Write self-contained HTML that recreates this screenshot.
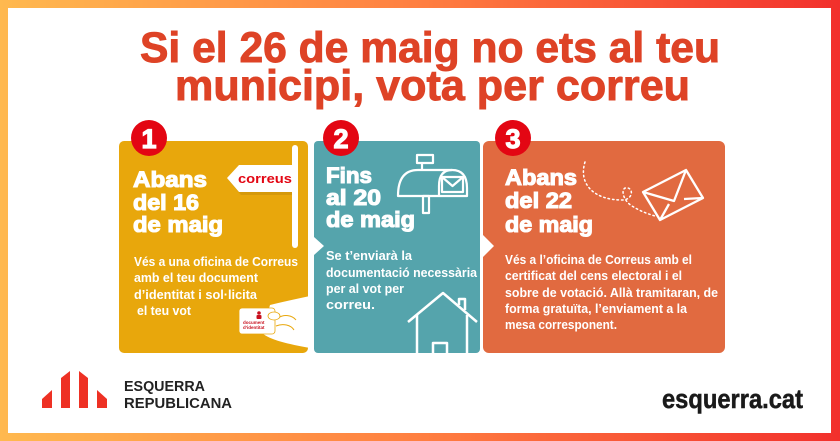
<!DOCTYPE html>
<html>
<head>
<meta charset="utf-8">
<style>
  html,body{margin:0;padding:0;background:#fff;}
  svg{display:block;}
  text{font-family:"Liberation Sans", sans-serif;font-weight:bold;}
</style>
</head>
<body>
<svg width="840" height="441" viewBox="0 0 840 441" xmlns="http://www.w3.org/2000/svg">
  <defs>
    <linearGradient id="frame" x1="0" y1="0" x2="1" y2="0">
      <stop offset="0" stop-color="#FFB94F"/>
      <stop offset="0.5" stop-color="#FF7F41"/>
      <stop offset="1" stop-color="#F2302C"/>
    </linearGradient>
  </defs>

  <!-- frame -->
  <rect x="0" y="0" width="840" height="441" fill="url(#frame)"/>
  <rect x="8" y="8" width="823" height="425" fill="#ffffff"/>

  <!-- title -->
  <g fill="#DE4326" stroke="#DE4326" stroke-width="0.9" font-size="43" text-anchor="start">
    <text x="140" y="62" textLength="580" lengthAdjust="spacingAndGlyphs">Si el 26 de maig no ets al teu</text>
    <text x="175" y="100" textLength="515" lengthAdjust="spacingAndGlyphs">municipi, vota per correu</text>
  </g>

  <!-- cards -->
  <rect x="119" y="141" width="189" height="212" rx="5" fill="#E8A70C"/>
  <rect x="314" y="141" width="166" height="212" rx="4" fill="#55A4AC"/>
  <rect x="483" y="141" width="242" height="212" rx="6" fill="#E16A40"/>

  <!-- notches -->
  <polygon points="314,237 324,246 314,255" fill="#fff"/>
  <polygon points="483,235 494,246 483,257" fill="#fff"/>

  <!-- number circles -->
  <circle cx="149" cy="138" r="18" fill="#E30613"/>
  <circle cx="341" cy="138" r="18" fill="#E30613"/>
  <circle cx="513" cy="138" r="18" fill="#E30613"/>
  <g fill="#fff" stroke="#fff" stroke-width="1.2" font-size="27" text-anchor="middle">
    <text x="149" y="148">1</text>
    <text x="341" y="148">2</text>
    <text x="513" y="148">3</text>
  </g>

  <!-- card 1 sign -->
  <polygon points="229,181 241,168 297,168 297,195 241,195" fill="#000" opacity="0.08"/>
  <rect x="292" y="145" width="6" height="103" rx="3" fill="#fff"/>
  <polygon points="227,178 239,165 294,165 294,192 239,192" fill="#fff"/>
  <text x="238" y="183" font-size="13" fill="#E30613" textLength="54" lengthAdjust="spacingAndGlyphs">correus</text>

  <!-- card headings -->
  <g fill="#fff" stroke="#fff" stroke-width="1.1" font-size="22">
    <text x="133" y="187" textLength="74" lengthAdjust="spacingAndGlyphs">Abans</text>
    <text x="133" y="210" textLength="66" lengthAdjust="spacingAndGlyphs">del 16</text>
    <text x="133" y="232" textLength="90" lengthAdjust="spacingAndGlyphs">de maig</text>

    <text x="326" y="183" textLength="46" lengthAdjust="spacingAndGlyphs">Fins</text>
    <text x="326" y="205" textLength="55" lengthAdjust="spacingAndGlyphs">al 20</text>
    <text x="326" y="227" textLength="89" lengthAdjust="spacingAndGlyphs">de maig</text>

    <text x="505" y="185" textLength="72" lengthAdjust="spacingAndGlyphs">Abans</text>
    <text x="505" y="208" textLength="67" lengthAdjust="spacingAndGlyphs">del 22</text>
    <text x="505" y="232" textLength="88" lengthAdjust="spacingAndGlyphs">de maig</text>
  </g>

  <!-- body texts -->
  <g fill="#fff" font-size="13">
    <text x="134" y="266" textLength="164" lengthAdjust="spacingAndGlyphs">Vés a una oficina de Correus</text>
    <text x="134" y="282" textLength="124" lengthAdjust="spacingAndGlyphs">amb el teu document</text>
    <text x="134" y="299" textLength="123" lengthAdjust="spacingAndGlyphs">d’identitat i sol·licita</text>
    <text x="137" y="315" textLength="54" lengthAdjust="spacingAndGlyphs">el teu vot</text>

    <text x="326" y="260" textLength="86" lengthAdjust="spacingAndGlyphs">Se t’enviarà la</text>
    <text x="326" y="277" textLength="151" lengthAdjust="spacingAndGlyphs">documentació necessària</text>
    <text x="326" y="293" textLength="78" lengthAdjust="spacingAndGlyphs">per al vot per</text>
    <text x="326" y="309" textLength="49" lengthAdjust="spacingAndGlyphs">correu.</text>

    <text x="505" y="264" textLength="187" lengthAdjust="spacingAndGlyphs">Vés a l’oficina de Correus amb el</text>
    <text x="505" y="280" textLength="177" lengthAdjust="spacingAndGlyphs">certificat del cens electoral i el</text>
    <text x="505" y="297" textLength="213" lengthAdjust="spacingAndGlyphs">sobre de votació. Allà tramitaran, de</text>
    <text x="505" y="313" textLength="182" lengthAdjust="spacingAndGlyphs">forma gratuïta, l’enviament a la</text>
    <text x="505" y="329" textLength="112" lengthAdjust="spacingAndGlyphs">mesa corresponent.</text>
  </g>

  <!-- hand with ID card -->
  <path d="M262,333 C270,340 288,344 310,348 L310,296 C296,299 282,302 270,305 Z" fill="#fff"/>
  <path d="M278,318 C284,314 292,315 296,320" fill="none" stroke="#E8A70C" stroke-width="1"/>
  <path d="M276,326 C283,323 291,325 294,330" fill="none" stroke="#E8A70C" stroke-width="1"/>
  <rect x="239" y="308" width="36" height="26" rx="3" fill="#fff" stroke="#E8A70C" stroke-width="0.8"/>
  <ellipse cx="274" cy="316" rx="6" ry="4" fill="#fff" stroke="#E8A70C" stroke-width="0.8"/>
  <circle cx="259" cy="313" r="1.8" fill="#C8101E"/>
  <rect x="256.5" y="315" width="5" height="4" rx="1" fill="#C8101E"/>
  <text x="243" y="324" font-size="4.5" fill="#C8101E">document</text>
  <text x="243" y="329" font-size="4.5" fill="#C8101E">d’identitat</text>

  <!-- mailbox -->
  <g fill="none" stroke="#fff" stroke-width="2.2" stroke-linejoin="round">
    <rect x="417" y="155" width="16" height="8"/>
    <line x1="422" y1="163" x2="422" y2="170"/>
    <path d="M398,196 Q398,170 418,170 L452,170 Q467,170 467,188 L467,196 Z"/>
    <path d="M439,196 L439,186 Q439,170 452,170"/>
    <rect x="442" y="177" width="21" height="15"/>
    <path d="M442,177 L452.5,186 L463,177"/>
    <rect x="423" y="196" width="6" height="17"/>
  </g>

  <!-- house -->
  <g fill="none" stroke="#fff" stroke-width="2.5" stroke-linejoin="round">
    <path d="M408,322 L443,293 L477,322"/>
    <path d="M417,315 L417,353"/>
    <path d="M467,315 L467,353"/>
    <path d="M459,305 L459,299 L465,299 L465,310"/>
    <path d="M433,353 L433,343 L447,343 L447,353"/>
  </g>

  <!-- dotted path + envelope -->
  <path d="M585,162 C578,185 595,200 622,200 C632,200 634,190 628,188 C620,186 622,200 632,206 C640,211 648,214 655,216"
        fill="none" stroke="#fff" stroke-width="1.5" stroke-dasharray="1.5,3" stroke-linecap="round"/>
  <g fill="none" stroke="#fff" stroke-width="2.3" stroke-linejoin="round">
    <polygon points="643,192 686,170 703,198 660,220"/>
    <path d="M643,192 L674,201 L686,170"/>
    <path d="M660,220 L669,204"/>
    <path d="M703,198 L684,199"/>
  </g>

  <!-- logo -->
  <g fill="#EE3124">
    <polygon points="42,399 52,390 52,408 42,408"/>
    <polygon points="61,378 70,371 70,408 61,408"/>
    <polygon points="79,371 88,378 88,408 79,408"/>
    <polygon points="97,390 107,399 107,408 97,408"/>
  </g>
  <g fill="#222" font-size="14.5">
    <text x="124" y="391" textLength="81" lengthAdjust="spacingAndGlyphs">ESQUERRA</text>
    <text x="124" y="408" textLength="108" lengthAdjust="spacingAndGlyphs">REPUBLICANA</text>
  </g>
  <text x="662" y="408" font-size="27" fill="#1a1a1a" stroke="#1a1a1a" stroke-width="0.5" textLength="141" lengthAdjust="spacingAndGlyphs">esquerra.cat</text>
</svg>
</body>
</html>
